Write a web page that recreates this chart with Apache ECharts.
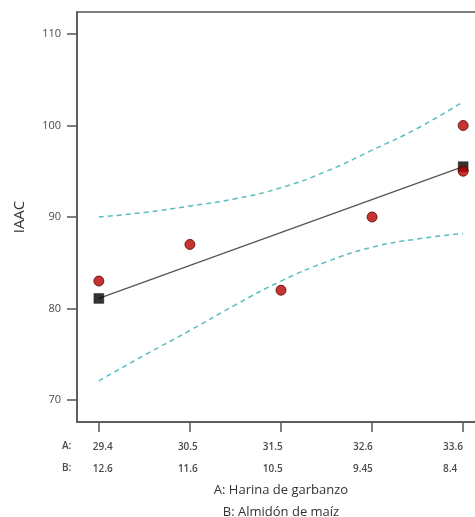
<!DOCTYPE html>
<html>
<head>
<meta charset="utf-8">
<script src="https://cdn.jsdelivr.net/npm/echarts@6/dist/echarts.min.js"></script>
<style>
html,body{margin:0;padding:0;background:#fff;}
#chart{width:475px;height:517px;}
</style>
</head>
<body>
<div id="chart"></div>
<script>
// ---- data ----
const tickIdx = [0, 1, 2, 3, 4];
const aLabels = ['29.4', '30.5', '31.5', '32.6', '33.6'];
const bLabels = ['12.6', '11.6', '10.5', '9.45', '8.4'];
const yTicks = [70, 80, 90, 100, 110];

const obsX = [0, 1, 2, 3, 4, 4];
const obsY = [83, 87, 82, 90, 100, 95];

const fitX = [0, 4];
const fitY = [81.1, 95.5];

const ciX = [0, 0.5, 1, 1.5, 2, 2.5, 3, 3.5, 4];
const ciUpper = [90.0, 90.5, 91.2, 92.0, 93.2, 95.0, 97.3, 99.7, 102.6];
const ciLower = [72.1, 74.9, 77.6, 80.4, 83.0, 85.1, 86.7, 87.6, 88.2];

// ---- layout helpers ----
const labelPos = [-0.066, 0.868, 1.80, 2.79, 3.78];
const zip = (xs, ys) => xs.map((x, i) => [x, ys[i]]);

const chart = echarts.init(document.getElementById('chart'));
const font = '"Open Sans", "DejaVu Sans", sans-serif';

chart.setOption({
  animation: false,
  backgroundColor: '#fff',
  grid: {
    left: 77, top: 12, right: -10, bottom: 95,
    containLabel: false,
    outerBoundsMode: 'none',
    show: true, borderColor: '#555', borderWidth: 1.5, backgroundColor: 'transparent'
  },
  xAxis: {
    type: 'value',
    min: -0.24, max: 4.24,
    splitLine: { show: false },
    axisLine: { show: true, onZero: false, lineStyle: { color: '#555', width: 1.5 } },
    axisTick: { show: true, customValues: tickIdx, length: 10, lineStyle: { color: '#555', width: 1.5 } },
    axisLabel: {
      customValues: labelPos,
      align: 'left',
      margin: 14,
      fontFamily: font, fontSize: 10, fontWeight: 600, color: '#4a4a4a', lineHeight: 22,
      formatter: function (v) {
        let i = labelPos.findIndex(p => Math.abs(p - v) < 1e-6);
        if (i < 0) return '';
        return aLabels[i] + '\n' + bLabels[i];
      }
    },
    name: 'A: Harina de garbanzo\nB: Almidón de maíz',
    nameLocation: 'middle',
    nameGap: 57,
    nameMoveOverlap: false,
    nameTextStyle: { fontFamily: font, fontSize: 13, color: '#333', lineHeight: 22 }
  },
  yAxis: {
    type: 'value',
    min: 67.6, max: 112.4,
    splitLine: { show: false },
    axisLine: { show: true, onZero: false, lineStyle: { color: '#555', width: 1.5 } },
    axisTick: { show: true, customValues: yTicks, length: 10, lineStyle: { color: '#555', width: 1.5 } },
    axisLabel: {
      customValues: yTicks,
      margin: 16,
      fontFamily: font, fontSize: 11, color: '#4a4a4a'
    },
    name: 'IAAC',
    nameLocation: 'middle',
    nameRotate: 90,
    nameGap: 50,
    nameMoveOverlap: false,
    nameTextStyle: { fontFamily: font, fontSize: 15, color: '#333' }
  },
  graphic: [
    { type: 'text', left: 62, top: 441, style: { text: 'A:', font: '600 10px ' + font, fill: '#4a4a4a' } },
    { type: 'text', left: 62, top: 463, style: { text: 'B:', font: '600 10px ' + font, fill: '#4a4a4a' } }
  ],
  series: [
    {
      type: 'line', data: zip(ciX, ciUpper), smooth: 0.5, symbol: 'none', z: 2,
      lineStyle: { color: '#5bbdbd', width: 1.5, type: [5, 4] }
    },
    {
      type: 'line', data: zip(ciX, ciLower), smooth: 0.5, symbol: 'none', z: 2,
      lineStyle: { color: '#5bbdbd', width: 1.5, type: [5, 4] }
    },
    {
      type: 'line', data: zip(fitX, fitY), symbol: 'none', z: 3,
      lineStyle: { color: '#555', width: 1.3 }
    },
    {
      type: 'scatter', data: zip(fitX, fitY), symbol: 'rect', symbolSize: 10, z: 4,
      itemStyle: { color: '#000', borderColor: '#222', borderWidth: 0.5 }
    },
    {
      type: 'scatter', data: zip(obsX, obsY), symbol: 'circle', symbolSize: 10, z: 5,
      itemStyle: { color: '#b80000', borderColor: '#5a0000', borderWidth: 1 }
    }
  ]
});
</script>
</body>
</html>
